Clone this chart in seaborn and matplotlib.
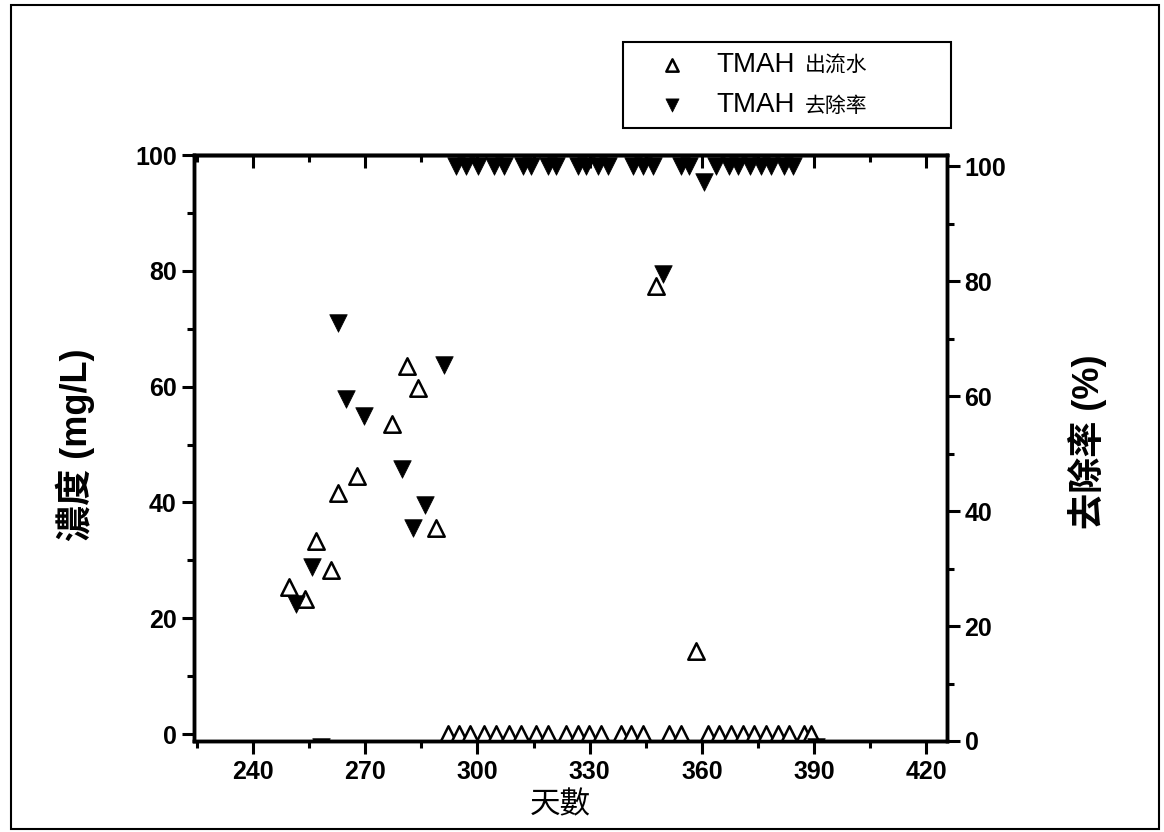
import matplotlib
matplotlib.use("Agg")
import matplotlib.pyplot as plt
import matplotlib.patches as patches
from matplotlib.ticker import MultipleLocator
import pandas as pd
import seaborn as sns

# TMAH effluent concentration (mg/L), left axis
effluent_day = [249.7, 253.9, 256.8, 260.7, 262.6, 267.8, 277.1, 281.1, 284.0, 288.9,
                292.1, 295.0, 298.0, 301.7, 304.9, 308.4, 311.6, 315.6, 318.8, 323.6,
                326.8, 329.8, 333.0, 338.3, 341.0, 344.2, 347.7, 351.1, 354.3, 358.4,
                361.6, 364.5, 367.7, 370.9, 373.9, 377.1, 380.3, 383.2, 387.2, 389.1]
effluent_conc = [25.4, 23.3, 33.4, 28.3, 41.7, 44.5, 53.6, 63.5, 59.8, 35.5,
                 0, 0, 0, 0, 0, 0, 0, 0, 0, 0,
                 0, 0, 0, 0, 0, 0, 77.4, 0, 0, 14.3,
                 0, 0, 0, 0, 0, 0, 0, 0, 0, 0]

# TMAH removal rate (%), right axis
removal_day = [251.5, 255.7, 258.2, 262.8, 264.8, 269.7, 279.9, 282.8, 286.0, 291.1,
               294.2, 296.9, 300.1, 304.4, 307.1, 312.1, 314.3, 318.8, 321.0, 326.8,
               329.0, 332.2, 334.8, 341.5, 344.2, 346.9, 349.7, 354.3, 356.5, 360.6,
               363.7, 367.2, 369.8, 373.0, 375.7, 378.4, 381.9, 384.5, 390.4]
removal_rate = [23.9, 30.2, -1.0, 72.7, 59.6, 56.5, 47.3, 37.0, 41.1, 65.4,
                100, 100, 100, 100, 100, 100, 100, 100, 100, 100,
                100, 100, 100, 100, 100, 100, 81.3, 100, 100, 97.3,
                100, 100, 100, 100, 100, 100, 100, 100, -1.0]

x_ticks = [240, 270, 300, 330, 360, 390, 420]
y_ticks = [0, 20, 40, 60, 80, 100]
legend_main = ["TMAH", "TMAH"]
legend_sub = ["出流水", "去除率"]

eff_df = pd.DataFrame({"day": effluent_day, "conc": effluent_conc})
rem_df = pd.DataFrame({"day": removal_day, "rate": removal_rate})

sns.set_theme(style="ticks")
plt.rcParams["font.family"] = ["Liberation Sans", "Noto Sans CJK TC"]
plt.rcParams.update({"text.color": "black", "axes.labelcolor": "black",
                     "xtick.color": "black", "ytick.color": "black",
                     "axes.edgecolor": "black"})

fig = plt.figure(figsize=(11.64, 8.32), dpi=100)
ax = fig.add_axes([0.1667, 0.1094, 0.647, 0.7043])
ax2 = ax.twinx()

sns.scatterplot(data=eff_df, x="day", y="conc", ax=ax, marker="^", s=140,
                facecolor="white", edgecolor="black", linewidth=1.8,
                legend=False, zorder=3)
sns.scatterplot(data=rem_df, x="day", y="rate", ax=ax2, marker="v", s=160,
                color="black", edgecolor="black", linewidth=0.5,
                legend=False, zorder=3)

ax.set_xlim(224.2, 425.6)
ax.set_ylim(-1.2, 100)
ax2.set_ylim(0, 102)

ax.set_xticks(x_ticks)
ax.set_yticks(y_ticks)
ax2.set_yticks(y_ticks)
ax.xaxis.set_minor_locator(MultipleLocator(15))
ax.yaxis.set_minor_locator(MultipleLocator(10))
ax2.yaxis.set_minor_locator(MultipleLocator(10))

ax.tick_params(axis="x", which="both", direction="out", top=False, width=2.2)
ax.tick_params(axis="x", which="major", length=9, labelsize=18, pad=5)
ax.tick_params(axis="x", which="minor", length=5)
for a in (ax, ax2):
    a.tick_params(axis="y", which="both", direction="out", width=2.2, labelsize=18)
    a.tick_params(axis="y", which="major", length=9)
    a.tick_params(axis="y", which="minor", length=5)
    for sp in a.spines.values():
        sp.set_linewidth(2.5)
for lab in ax.get_xticklabels() + ax.get_yticklabels() + ax2.get_yticklabels():
    lab.set_fontweight("bold")

# top ticks point inward, like the original figure
top = ax.secondary_xaxis("top")
top.set_xticks(x_ticks)
top.xaxis.set_minor_locator(MultipleLocator(15))
top.tick_params(which="both", direction="in", width=2.2, labeltop=False)
top.tick_params(which="major", length=9)
top.tick_params(which="minor", length=5)
top.spines["top"].set_linewidth(2.5)

ax.set_xlabel("天數", fontsize=22)
ax.set_ylabel("濃度 (mg/L)", fontsize=26, fontweight="bold")
ax2.set_ylabel("去除率 (%)", fontsize=26, fontweight="bold")
ax.xaxis.set_label_coords(0.486, -0.085)
ax.yaxis.set_label_coords(-0.131, 0.505)
ax2.yaxis.set_label_coords(1.161, 0.51)

handles = ax.collections[:1] + ax2.collections[:1]
leg = fig.legend(handles, legend_main,
                 loc="upper left", bbox_to_anchor=(0.5352, 0.8462, 0.2818, 0.1034),
                 mode="expand", fontsize=20, frameon=True, fancybox=False,
                 framealpha=1, edgecolor="black", borderpad=0.36, labelspacing=0.5,
                 handlelength=2.8, handletextpad=0.2, markerscale=0.75,
                 borderaxespad=0)
leg.get_frame().set_linewidth(1.5)

# smaller CJK part of each legend entry, right after "TMAH"
fig.canvas.draw()
renderer = fig.canvas.get_renderer()
inv = fig.transFigure.inverted()
for txt, sub in zip(leg.get_texts(), legend_sub):
    bb = txt.get_window_extent(renderer)
    x0, y0 = inv.transform((bb.x1 + 10, bb.y0 + 6))
    fig.text(x0, y0, sub, fontsize=15, va="baseline", ha="left", zorder=10)

fig.patches.append(patches.Rectangle((11 / 1164, 1 - 829 / 832), 1148 / 1164, 824 / 832,
                                     transform=fig.transFigure, fill=False,
                                     edgecolor="black", linewidth=1.5))

fig.savefig("out.png", dpi=100)
